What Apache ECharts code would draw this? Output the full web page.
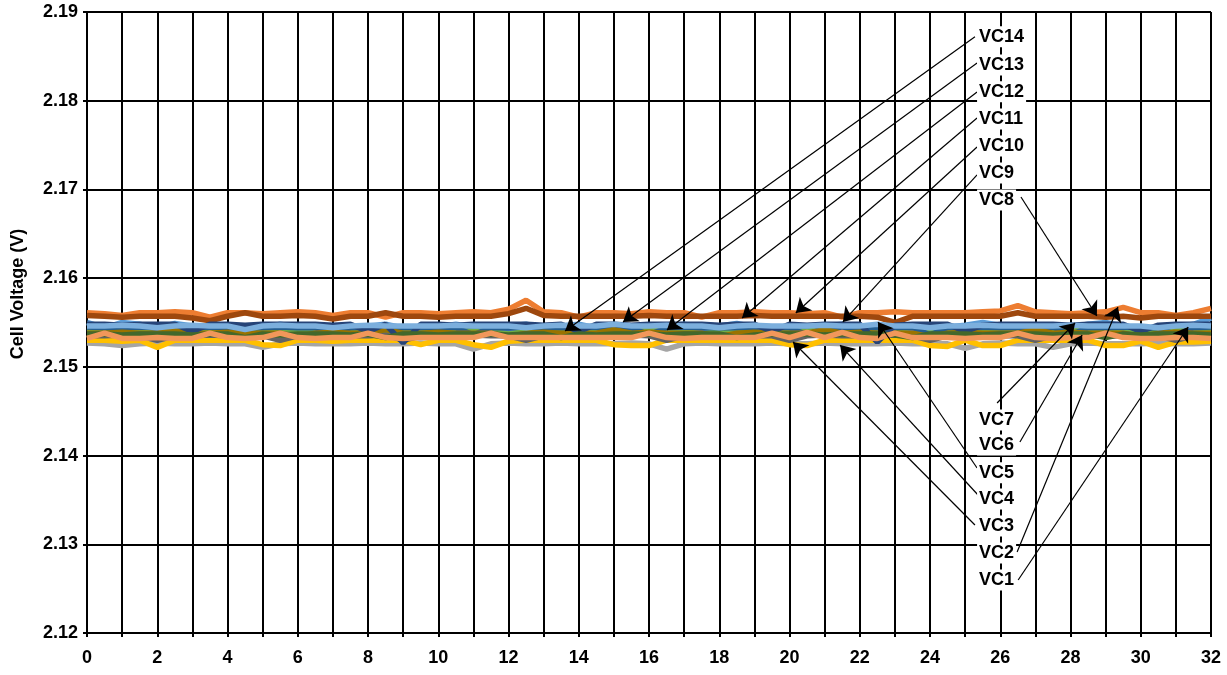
<!DOCTYPE html>
<html>
<head>
<meta charset="UTF-8">
<title>Cell Voltage</title>
<script src="https://cdn.jsdelivr.net/npm/echarts@6/dist/echarts.min.js"></script>
<style>
  html, body { margin: 0; padding: 0; background: #fff; }
  #main { width: 1227px; height: 675px; }
</style>
</head>
<body>
<div id="main"></div>
<script type="text/javascript">
// time axis (h), one reading every half hour
var hours = [0,0.5,1,1.5,2,2.5,3,3.5,4,4.5,5,5.5,6,6.5,7,7.5,8,8.5,9,9.5,10,10.5,11,11.5,12,12.5,13,13.5,14,14.5,15,15.5,16,
  16.5,17,17.5,18,18.5,19,19.5,20,20.5,21,21.5,22,22.5,23,23.5,24,24.5,25,25.5,26,26.5,27,27.5,28,28.5,29,29.5,30,30.5,31,31.5,32];

var vc1 = [2.1550,2.1544,2.1550,2.1548,2.1544,2.1549,2.1546,2.1545,2.1546,2.1545,
  2.1544,2.1548,2.1545,2.1540,2.1545,2.1545,2.1546,2.1548,2.1544,2.1542,
  2.1545,2.1548,2.1545,2.1543,2.1546,2.1548,2.1544,2.1546,2.1548,2.1544,
  2.1545,2.1546,2.1544,2.1545,2.1548,2.1544,2.1546,2.1549,2.1545,2.1544,
  2.1545,2.1544,2.1546,2.1548,2.1545,2.1542,2.1546,2.1544,2.1542,2.1545,
  2.1547,2.1550,2.1547,2.1545,2.1544,2.1543,2.1545,2.1548,2.1550,2.1546,
  2.1543,2.1545,2.1545,2.1548,2.1555];
var vc2 = [2.1561,2.1560,2.1558,2.1561,2.1561,2.1562,2.1561,2.1556,2.1561,2.1561,
  2.1560,2.1561,2.1562,2.1561,2.1558,2.1561,2.1561,2.1556,2.1561,2.1561,
  2.1560,2.1561,2.1562,2.1561,2.1565,2.1575,2.1562,2.1561,2.1556,2.1561,
  2.1561,2.1560,2.1562,2.1561,2.1561,2.1556,2.1561,2.1561,2.1562,2.1561,
  2.1561,2.1560,2.1561,2.1556,2.1561,2.1561,2.1562,2.1561,2.1561,2.1561,
  2.1561,2.1562,2.1563,2.1569,2.1562,2.1561,2.1560,2.1561,2.1562,2.1567,
  2.1561,2.1561,2.1558,2.1561,2.1566];
var vc3 = [2.1527,2.1526,2.1524,2.1526,2.1527,2.1526,2.1526,2.1527,2.1526,2.1526,
  2.1522,2.1526,2.1527,2.1526,2.1526,2.1526,2.1527,2.1526,2.1526,2.1527,
  2.1526,2.1526,2.1520,2.1526,2.1527,2.1526,2.1526,2.1527,2.1526,2.1526,
  2.1526,2.1527,2.1526,2.1520,2.1526,2.1527,2.1526,2.1526,2.1526,2.1527,
  2.1526,2.1526,2.1527,2.1526,2.1526,2.1526,2.1527,2.1526,2.1526,2.1526,
  2.1521,2.1526,2.1527,2.1526,2.1526,2.1522,2.1526,2.1527,2.1526,2.1526,
  2.1526,2.1527,2.1526,2.1526,2.1527];
var vc4 = [2.1530,2.1530,2.1529,2.1530,2.1522,2.1530,2.1530,2.1530,2.1530,2.1530,
  2.1525,2.1524,2.1530,2.1530,2.1529,2.1530,2.1530,2.1530,2.1530,2.1525,
  2.1530,2.1530,2.1525,2.1522,2.1529,2.1530,2.1530,2.1530,2.1530,2.1530,
  2.1525,2.1524,2.1524,2.1530,2.1530,2.1530,2.1530,2.1530,2.1530,2.1530,
  2.1525,2.1524,2.1530,2.1530,2.1530,2.1530,2.1530,2.1530,2.1524,2.1523,
  2.1530,2.1524,2.1524,2.1530,2.1530,2.1530,2.1530,2.1530,2.1524,2.1524,
  2.1529,2.1522,2.1528,2.1528,2.1529];
var vc5 = [2.1543,2.1542,2.1540,2.1542,2.1543,2.1542,2.1542,2.1538,2.1542,2.1543,
  2.1542,2.1542,2.1543,2.1542,2.1538,2.1542,2.1542,2.1543,2.1542,2.1542,
  2.1541,2.1542,2.1543,2.1542,2.1542,2.1538,2.1542,2.1542,2.1543,2.1542,
  2.1542,2.1540,2.1542,2.1543,2.1542,2.1542,2.1538,2.1542,2.1542,2.1543,
  2.1542,2.1542,2.1542,2.1543,2.1542,2.1540,2.1542,2.1542,2.1538,2.1542,
  2.1542,2.1543,2.1542,2.1542,2.1542,2.1538,2.1542,2.1543,2.1542,2.1542,
  2.1540,2.1542,2.1543,2.1542,2.1542];
var vc6 = [2.1540,2.1540,2.1541,2.1540,2.1537,2.1540,2.1540,2.1541,2.1540,2.1540,
  2.1540,2.1544,2.1540,2.1540,2.1541,2.1540,2.1537,2.1540,2.1540,2.1540,
  2.1541,2.1540,2.1540,2.1540,2.1537,2.1540,2.1541,2.1540,2.1540,2.1544,
  2.1540,2.1540,2.1541,2.1540,2.1540,2.1537,2.1540,2.1540,2.1541,2.1540,
  2.1540,2.1540,2.1544,2.1540,2.1541,2.1540,2.1540,2.1537,2.1540,2.1540,
  2.1541,2.1540,2.1540,2.1540,2.1537,2.1540,2.1541,2.1540,2.1540,2.1544,
  2.1540,2.1540,2.1541,2.1540,2.1540];
var vc7 = [2.1545,2.1544,2.1544,2.1545,2.1544,2.1536,2.1544,2.1545,2.1544,2.1544,
  2.1544,2.1545,2.1544,2.1544,2.1536,2.1544,2.1545,2.1544,2.1544,2.1544,
  2.1545,2.1544,2.1536,2.1544,2.1544,2.1545,2.1544,2.1544,2.1544,2.1545,
  2.1544,2.1544,2.1536,2.1544,2.1545,2.1544,2.1544,2.1544,2.1545,2.1544,
  2.1544,2.1536,2.1544,2.1545,2.1544,2.1544,2.1544,2.1545,2.1536,2.1544,
  2.1544,2.1545,2.1544,2.1544,2.1544,2.1545,2.1536,2.1544,2.1544,2.1545,
  2.1544,2.1544,2.1536,2.1544,2.1545];
var vc8 = [2.1558,2.1557,2.1556,2.1557,2.1557,2.1557,2.1555,2.1552,2.1557,2.1561,
  2.1557,2.1557,2.1558,2.1557,2.1554,2.1557,2.1557,2.1561,2.1557,2.1557,
  2.1556,2.1557,2.1557,2.1557,2.1560,2.1566,2.1558,2.1557,2.1557,2.1557,
  2.1557,2.1557,2.1558,2.1557,2.1557,2.1557,2.1557,2.1557,2.1558,2.1557,
  2.1557,2.1557,2.1557,2.1557,2.1557,2.1556,2.1550,2.1557,2.1557,2.1557,
  2.1557,2.1557,2.1557,2.1561,2.1557,2.1557,2.1557,2.1557,2.1556,2.1557,
  2.1555,2.1557,2.1557,2.1557,2.1557];
var vc9 = [2.1535,2.1535,2.1536,2.1535,2.1530,2.1535,2.1535,2.1536,2.1535,2.1535,
  2.1535,2.1530,2.1535,2.1536,2.1535,2.1535,2.1535,2.1536,2.1530,2.1535,
  2.1535,2.1535,2.1536,2.1535,2.1535,2.1530,2.1535,2.1536,2.1535,2.1535,
  2.1535,2.1536,2.1535,2.1530,2.1535,2.1535,2.1536,2.1535,2.1535,2.1535,
  2.1530,2.1535,2.1536,2.1535,2.1535,2.1535,2.1536,2.1535,2.1530,2.1535,
  2.1535,2.1536,2.1535,2.1535,2.1530,2.1535,2.1536,2.1535,2.1535,2.1535,
  2.1536,2.1535,2.1530,2.1535,2.1535];
var vc10 = [2.1538,2.1538,2.1539,2.1538,2.1538,2.1542,2.1538,2.1538,2.1539,2.1538,
  2.1538,2.1538,2.1534,2.1538,2.1539,2.1538,2.1538,2.1542,2.1538,2.1538,
  2.1539,2.1538,2.1538,2.1538,2.1534,2.1538,2.1539,2.1538,2.1538,2.1538,
  2.1542,2.1538,2.1539,2.1538,2.1538,2.1538,2.1534,2.1538,2.1539,2.1538,
  2.1538,2.1538,2.1542,2.1538,2.1539,2.1538,2.1538,2.1538,2.1534,2.1538,
  2.1539,2.1538,2.1538,2.1538,2.1542,2.1538,2.1539,2.1538,2.1538,2.1538,
  2.1534,2.1538,2.1539,2.1538,2.1538];
var vc11 = [2.1548,2.1548,2.1547,2.1548,2.1548,2.1548,2.1540,2.1548,2.1548,2.1547,
  2.1548,2.1548,2.1548,2.1548,2.1547,2.1548,2.1540,2.1548,2.1527,2.1548,
  2.1548,2.1547,2.1548,2.1548,2.1548,2.1548,2.1547,2.1548,2.1540,2.1548,
  2.1548,2.1547,2.1548,2.1548,2.1548,2.1548,2.1547,2.1548,2.1548,2.1540,
  2.1548,2.1547,2.1548,2.1548,2.1548,2.1528,2.1547,2.1548,2.1548,2.1548,
  2.1540,2.1547,2.1548,2.1548,2.1548,2.1548,2.1547,2.1548,2.1548,2.1548,
  2.1540,2.1547,2.1548,2.1548,2.1548];
var vc12 = [2.1537,2.1537,2.1536,2.1537,2.1537,2.1537,2.1536,2.1537,2.1537,2.1533,
  2.1537,2.1536,2.1537,2.1537,2.1537,2.1536,2.1537,2.1533,2.1537,2.1537,
  2.1536,2.1537,2.1537,2.1537,2.1536,2.1537,2.1537,2.1533,2.1537,2.1536,
  2.1537,2.1537,2.1537,2.1536,2.1537,2.1537,2.1537,2.1533,2.1536,2.1537,
  2.1537,2.1537,2.1536,2.1537,2.1537,2.1537,2.1536,2.1533,2.1537,2.1537,
  2.1537,2.1536,2.1537,2.1537,2.1537,2.1536,2.1537,2.1537,2.1533,2.1537,
  2.1536,2.1537,2.1537,2.1537,2.1536];
var vc13 = [2.1546,2.1546,2.1547,2.1546,2.1544,2.1546,2.1547,2.1546,2.1546,2.1542,
  2.1546,2.1547,2.1546,2.1546,2.1544,2.1546,2.1547,2.1546,2.1546,2.1546,
  2.1546,2.1547,2.1546,2.1546,2.1546,2.1544,2.1546,2.1547,2.1546,2.1546,
  2.1548,2.1546,2.1546,2.1547,2.1546,2.1546,2.1544,2.1546,2.1547,2.1546,
  2.1546,2.1546,2.1547,2.1546,2.1546,2.1548,2.1546,2.1546,2.1544,2.1546,
  2.1546,2.1547,2.1546,2.1546,2.1546,2.1546,2.1547,2.1546,2.1546,2.1546,
  2.1546,2.1544,2.1546,2.1547,2.1546];
var vc14 = [2.1532,2.1538,2.1532,2.1532,2.1533,2.1532,2.1532,2.1538,2.1533,2.1532,
  2.1533,2.1538,2.1533,2.1532,2.1533,2.1533,2.1538,2.1533,2.1532,2.1533,
  2.1533,2.1533,2.1533,2.1538,2.1533,2.1533,2.1533,2.1533,2.1533,2.1533,
  2.1533,2.1533,2.1538,2.1533,2.1532,2.1533,2.1533,2.1533,2.1533,2.1538,
  2.1533,2.1539,2.1533,2.1539,2.1533,2.1532,2.1538,2.1533,2.1533,2.1533,
  2.1532,2.1533,2.1533,2.1538,2.1533,2.1532,2.1533,2.1533,2.1538,2.1533,
  2.1532,2.1532,2.1533,2.1533,2.1532];

var seriesNames = ['VC1','VC2','VC3','VC4','VC5','VC6','VC7','VC8','VC9','VC10','VC11','VC12','VC13','VC14'];
var seriesValues = [vc1,vc2,vc3,vc4,vc5,vc6,vc7,vc8,vc9,vc10,vc11,vc12,vc13,vc14];
var seriesColors = ['#5B9BD5','#ED7D31','#A5A5A5','#FFC000','#4472C4','#70AD47','#255E91',
  '#9E480E','#636363','#997300','#264478','#43682B','#7CAFDD','#F1975A'];

// callout labels (left edge, middle) and their arrows, in axis units, same order as seriesNames
var labelX = 25.34;
var labelY = [2.12597,2.12902,2.13206,2.13510,2.13807,2.14119,2.14401,2.16881,2.17185,2.17490,2.17794,2.18102,2.18403,2.18722];
var arrowFrom = [[26.51,2.12597],[26.48,2.12913],[25.28,2.13217],[25.42,2.13533],[25.34,2.13860],[26.56,2.14153],[25.91,2.14593],
  [26.59,2.16915],[25.34,2.17163],[25.34,2.17478],[25.34,2.17805],[25.34,2.18098],[25.34,2.18425],[25.28,2.18722]];
var arrowTo = [[31.35,2.15449],[29.35,2.15675],[20.10,2.15280],[21.44,2.15246],[22.52,2.15506],[28.33,2.15359],[28.13,2.15494],
  [28.75,2.15573],[21.52,2.15506],[20.18,2.15607],[18.65,2.15551],[16.51,2.15415],[15.26,2.15506],[13.61,2.15404]];

var FONT = '"Liberation Sans", Arial, sans-serif';

var myChart = echarts.init(document.getElementById('main'));

var series = [];
for (var i = 0; i < seriesNames.length; i++) {
  var pts = [];
  for (var j = 0; j < hours.length; j++) {
    pts.push([hours[j], seriesValues[i][j]]);
  }
  series.push({
    name: seriesNames[i],
    type: 'line',
    data: pts,
    showSymbol: false,
    symbol: 'none',
    lineStyle: { color: seriesColors[i], width: 5.5 },
    itemStyle: { color: seriesColors[i] },
    emphasis: { disabled: true },
    silent: true,
    z: 2
  });
}

var arrows = [];
for (var k = 0; k < arrowFrom.length; k++) {
  arrows.push([{ coord: arrowFrom[k] }, { coord: arrowTo[k] }]);
}
series.push({
  name: 'arrows',
  type: 'line',
  data: [],
  silent: true,
  z: 5,
  markLine: {
    silent: true,
    animation: false,
    symbol: ['none', 'arrow'],
    symbolSize: 14,
    label: { show: false },
    lineStyle: { color: '#000', width: 1.2, type: 'solid' },
    emphasis: { disabled: true },
    data: arrows
  }
});

var option = {
  animation: false,
  backgroundColor: '#fff',
  grid: {
    left: 87,
    right: 16,
    top: 12,
    bottom: 42,
    containLabel: false,
    outerBoundsMode: 'none'
  },
  xAxis: {
    type: 'value',
    min: 0,
    max: 32,
    interval: 1,
    axisLine: { show: true, onZero: false, lineStyle: { color: '#000', width: 2 } },
    axisTick: { show: true, length: 4, lineStyle: { color: '#000', width: 2 } },
    splitLine: { show: true, lineStyle: { color: '#000', width: 2 } },
    axisLabel: {
      color: '#000',
      fontFamily: FONT,
      fontWeight: 'bold',
      fontSize: 18,
      margin: 16,
      formatter: function (v) { return v % 2 === 0 ? String(v) : ''; }
    }
  },
  yAxis: {
    type: 'value',
    min: 2.12,
    max: 2.19,
    interval: 0.01,
    axisLine: { show: true, onZero: false, lineStyle: { color: '#000', width: 2 } },
    axisTick: { show: true, length: 4, lineStyle: { color: '#000', width: 2 } },
    splitLine: { show: true, lineStyle: { color: '#000', width: 2 } },
    axisLabel: {
      color: '#000',
      fontFamily: FONT,
      fontWeight: 'bold',
      fontSize: 18,
      margin: 9,
      formatter: function (v) { return v.toFixed(2); }
    }
  },
  series: series
};

myChart.setOption(option);

// callout labels with white boxes, and the y axis title
var graphics = [{
  type: 'text',
  x: 18,
  y: 294,
  rotation: Math.PI / 2,
  style: {
    text: 'Cell Voltage (V)',
    font: 'bold 18px ' + FONT,
    fill: '#000',
    align: 'center',
    verticalAlign: 'middle'
  }
}];
for (var m = 0; m < seriesNames.length; m++) {
  var p = myChart.convertToPixel({ gridIndex: 0 }, [labelX, labelY[m]]);
  graphics.push({
    type: 'text',
    x: p[0],
    y: p[1],
    z: 10,
    style: {
      text: seriesNames[m],
      font: 'bold 18px ' + FONT,
      fill: '#000',
      align: 'left',
      verticalAlign: 'middle',
      backgroundColor: '#fff',
      padding: [2, 2, 1, 2]
    }
  });
}
myChart.setOption({ graphic: graphics });
</script>
</body>
</html>
